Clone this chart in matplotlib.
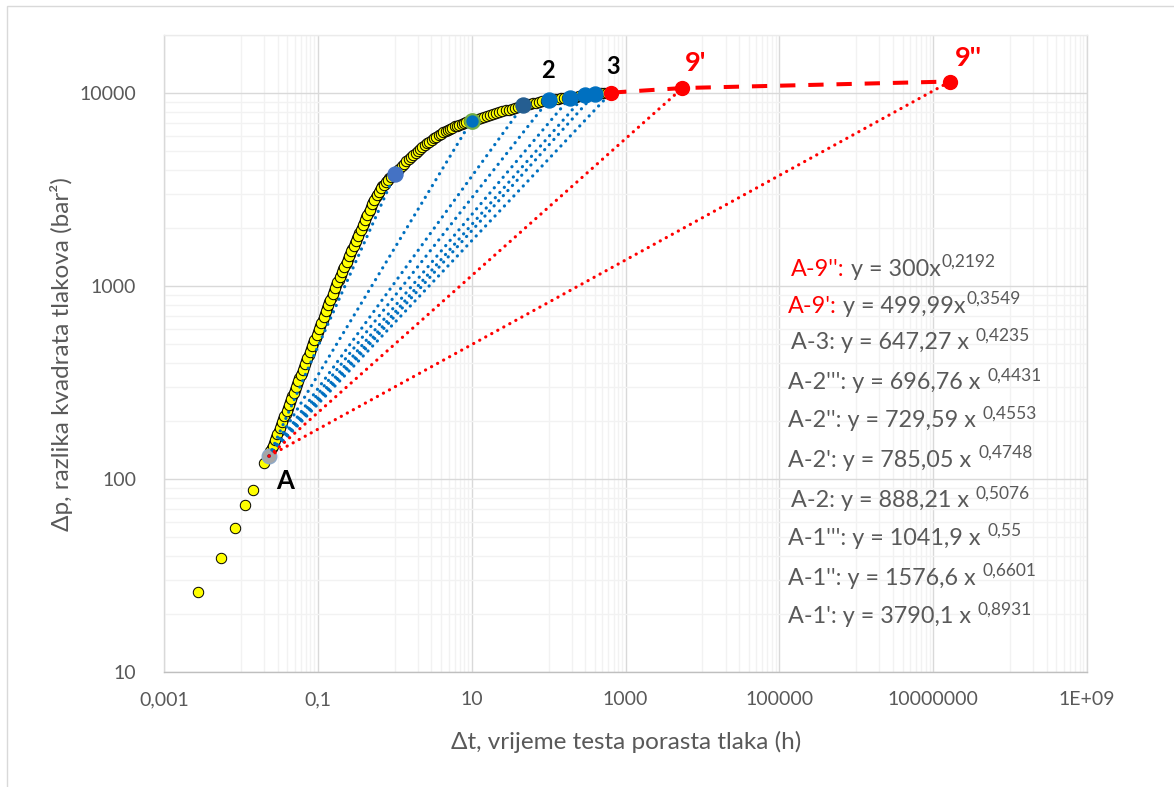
import matplotlib
matplotlib.use("Agg")
import matplotlib.pyplot as plt
from matplotlib.patches import Rectangle

plt.rcParams['font.family'] = ['Lato', 'DejaVu Sans']

# ---------------- data ----------------
# early (sparse) build-up points
dt_early = [0.0028, 0.0055, 0.0084, 0.0113, 0.0144, 0.0200]
dp_early = [26, 39, 56, 73, 88, 121]

# dense part of the measured curve
dt_curve = [0.0234, 0.0251, 0.0269, 0.0288, 0.0309, 0.0331, 0.0355, 0.0380, 0.0407, 0.0437,
            0.0468, 0.0501, 0.0537, 0.0575, 0.0617, 0.0661, 0.0708, 0.0759, 0.0813, 0.0871,
            0.0933, 0.100, 0.107, 0.115, 0.123, 0.132, 0.141, 0.151, 0.162, 0.174,
            0.186, 0.200, 0.214, 0.229, 0.245, 0.263, 0.282, 0.302, 0.324, 0.347,
            0.372, 0.398, 0.427, 0.457, 0.490, 0.525, 0.562, 0.603, 0.646, 0.692,
            0.741, 0.794, 0.851, 0.912, 0.977,
            1.000, 1.072, 1.148, 1.230, 1.318, 1.413, 1.514, 1.622, 1.738, 1.862,
            1.995, 2.138, 2.291, 2.455, 2.630, 2.818, 3.020, 3.236, 3.467, 3.715,
            3.981, 4.266, 4.571, 4.898, 5.248, 5.623, 6.026, 6.457, 6.918, 7.413,
            7.943, 8.511, 9.120, 10.0,
            10.96, 12.02, 13.18, 14.45, 15.85, 17.38, 19.05, 20.89, 22.91, 25.12,
            27.54, 30.20, 33.11, 36.31, 39.81, 43.65, 47.86, 52.48, 57.54, 63.10,
            69.18, 75.86, 83.18, 91.20, 100.0, 109.6, 120.2, 131.8, 144.5, 158.5,
            173.8, 190.5, 208.9, 229.1, 251.2, 275.4, 302.0, 331.1, 363.1, 398.1,
            436.5, 478.6, 524.8, 575.4, 631.0]
dp_curve = [134, 144, 154, 165, 177, 190, 204, 218, 234, 251,
            269, 288, 310, 332, 356, 382, 409, 439, 470, 505,
            541, 580, 622, 667, 714, 766, 822, 881, 944, 1016,
            1076, 1146, 1219, 1297, 1380, 1469, 1563, 1663, 1770, 1884,
            2004, 2133, 2270, 2415, 2570, 2735, 2884, 3013, 3148, 3289,
            3396, 3508, 3614, 3715, 3776,
            3811, 3936, 4055, 4178, 4305, 4426, 4550, 4667, 4786, 4909,
            5023, 5140, 5260, 5383, 5495, 5610, 5728, 5834, 5943, 6053,
            6152, 6252, 6353, 6442, 6531, 6622, 6714, 6792, 6871, 6950,
            7015, 7079, 7145, 7211,
            7295, 7362, 7447, 7534, 7621, 7691, 7780, 7870, 7943, 8035,
            8128, 8204, 8299, 8395, 8472, 8570, 8670, 8750, 8810, 8872,
            8933, 9016, 9078, 9141, 9204, 9247, 9290, 9333, 9376, 9419,
            9462, 9506, 9550, 9594, 9638, 9683, 9727, 9772, 9817, 9863,
            9908, 9954, 10000, 10023, 10046]

# further readings in the steep part of the curve
dt_curve2 = [0.0242, 0.0260, 0.0278, 0.0298, 0.0320, 0.0343, 0.0367, 0.0393, 0.0422, 0.0452,
             0.0484, 0.0519, 0.0556, 0.0596, 0.0639, 0.0684, 0.0733, 0.0786, 0.0842, 0.0902,
             0.0966, 0.1035, 0.111, 0.119, 0.1275, 0.1365, 0.146, 0.1565, 0.168, 0.180,
             0.193, 0.207, 0.2215, 0.237, 0.254, 0.2725, 0.292, 0.313, 0.335, 0.359,
             0.385, 0.412, 0.442, 0.473, 0.507, 0.543, 0.582, 0.624, 0.669, 0.716,
             0.767, 0.822, 0.881, 0.944]
dp_curve2 = [139, 149, 160, 171, 183, 197, 211, 226, 242, 260,
             279, 299, 321, 344, 369, 395, 424, 454, 487, 523,
             560, 601, 644, 690, 740, 794, 851, 912, 979, 1046,
             1110, 1182, 1257, 1338, 1424, 1515, 1612, 1716, 1826, 1943,
             2068, 2200, 2342, 2492, 2651, 2808, 2948, 3080, 3218, 3342,
             3451, 3561, 3664, 3745]

# common start point A of all trend lines
a_dt = [0.0232]
a_dp = [131.5]

# end points of the trend lines
end_names = ["1'", "1''", "1'''", "2", "2'", "2''", "2'''", "3", "9'", "9''"]
end_dt = [1.0, 10.0, 47, 100, 190, 300, 400, 650, 5500, 1.66e7]
end_dp = [3790, 7210, 8660, 9200, 9480, 9790, 9910, 10055, 10620, 11480]

# extrapolated series 3 -> 9' -> 9''
ext_dt = [650, 5500, 1.66e7]
ext_dp = [10055, 10620, 11480]

# trend line equations (label, coefficient, exponent)
eq_labels = ["A-9''", "A-9'", "A-3", "A-2'''", "A-2''", "A-2'", "A-2", "A-1'''", "A-1''", "A-1'"]
eq_coef = ["300", "499,99", "647,27", "696,76", "729,59", "785,05", "888,21", "1041,9", "1576,6", "3790,1"]
eq_exp = ["0,2192", "0,3549", "0,4235", "0,4431", "0,4553", "0,4748", "0,5076", "0,55", "0,6601", "0,8931"]

x_ticks = [1e-3, 1e-1, 1e1, 1e3, 1e5, 1e7, 1e9]
x_ticklabels = ["0,001", "0,1", "10", "1000", "100000", "10000000", "1E+09"]
y_ticks = [10, 100, 1000, 10000]
y_ticklabels = ["10", "100", "1000", "10000"]

# ---------------- figure ----------------
W, H = 1174, 787
fig = plt.figure(figsize=(W / 100, H / 100), dpi=100)
L, R, T, B = 164, 1087, 35, 672
ax = fig.add_axes([L / W, 1 - B / H, (R - L) / W, (B - T) / H])
ax.set_xscale('log')
ax.set_yscale('log')
ax.set_xlim(1e-3, 1e9)
ax.set_ylim(10, 2e4)

GREY = '#595959'
BLUE = '#0070C0'
RED = '#FF0000'

# grid
xminor = [m * 10.0 ** (k + 1) for k in (-3, -1, 1, 3, 5, 7) for m in range(1, 10)]
yminor = [m * 10.0 ** k for k in (1, 2, 3) for m in range(2, 10)] + [2e4]
ax.set_xticks(x_ticks)
ax.set_xticklabels(x_ticklabels)
ax.set_xticks(xminor, minor=True)
ax.set_yticks(y_ticks)
ax.set_yticklabels(y_ticklabels)
ax.set_yticks(yminor, minor=True)
ax.tick_params(which='both', length=0)
ax.tick_params(axis='x', which='major', pad=14, labelsize=14, labelcolor=GREY)
ax.tick_params(axis='y', which='major', pad=20, labelsize=14, labelcolor=GREY)
ax.xaxis.set_minor_formatter(plt.NullFormatter())
ax.yaxis.set_minor_formatter(plt.NullFormatter())
ax.grid(which='minor', color='#F2F2F2', lw=1.0, zorder=0)
ax.grid(which='major', color='#D9D9D9', lw=1.0, zorder=0)
ax.set_axisbelow(True)
ax.spines['top'].set_color('#EBEBEB')
for s in ['left', 'right']:
    ax.spines[s].set_color('#D9D9D9')
ax.spines['bottom'].set_color('#BFBFBF')
for s in ax.spines.values():
    s.set_linewidth(1.0)

# measured data
ax.plot(dt_early + dt_curve, dp_early + dp_curve, ls='none', marker='o', ms=7.5,
        mfc='#FFFF00', mec='black', mew=0.7, zorder=2)
ax.plot(dt_curve2, dp_curve2, ls='none', marker='o', ms=7.5,
        mfc='#FFFF00', mec='black', mew=0.7, zorder=2)

# point A
ax.plot(a_dt, a_dp, ls='none', marker='o', ms=10.5, mfc='#A6A6A6', mec='#8EA9C8',
        mew=1.0, zorder=2.5)

# trend lines from A to each end point
for i in range(len(end_dt)):
    col = RED if end_names[i] in ("9'", "9''") else BLUE
    ax.plot([a_dt[0], end_dt[i]], [a_dp[0], end_dp[i]], color=col, lw=2.3,
            ls=(0, (0.05, 2.1)), dash_capstyle='round', solid_capstyle='round', zorder=3)

# extrapolation (dashed red)
ax.plot(ext_dt, ext_dp, color=RED, lw=2.9, ls=(0, (3.8, 3.2)), zorder=3.5)

# end point markers
marker_style = {
    "1'": dict(mfc='#4472C4', mec='#4472C4', ms=10.8),
    "1''": dict(mfc=BLUE, mec='#70AD47', ms=10.5, mew=1.6),
    "1'''": dict(mfc='#255E91', mec='#255E91', ms=10.8),
    "2": dict(mfc=BLUE, mec=BLUE, ms=10.8),
    "2'": dict(mfc=BLUE, mec=BLUE, ms=10.8),
    "2''": dict(mfc=BLUE, mec=BLUE, ms=10.8),
    "2'''": dict(mfc=BLUE, mec=BLUE, ms=10.8),
    "3": dict(mfc=RED, mec=RED, ms=10.0),
    "9'": dict(mfc=RED, mec=RED, ms=10.0),
    "9''": dict(mfc=RED, mec=RED, ms=10.0),
}
for i, name in enumerate(end_names):
    st = dict(mew=1.0)
    st.update(marker_style[name])
    ax.plot([end_dt[i]], [end_dp[i]], ls='none', marker='o', zorder=4, **st)

# point labels
def plabel(x, y, txt, dx, dy, color, size):
    ax.annotate(txt, xy=(x, y), xytext=(dx, dy), textcoords='offset pixels',
                ha='center', va='center', fontsize=size, fontweight='bold',
                color=color, zorder=6)

plabel(end_dt[3], end_dp[3], "2", -1, 30, 'black', 17)
plabel(end_dt[7], end_dp[7], "3", 2, 26, 'black', 17)
plabel(end_dt[8], end_dp[8], "9'", 13, 25, RED, 19.5)
plabel(end_dt[9], end_dp[9], "9''", 18, 24, RED, 19.5)
plabel(a_dt[0], a_dp[0], "A", 16, -25, 'black', 18.5)

# axis titles
fig.text(626 / W, 1 - 742 / H, "Δt, vrijeme testa porasta tlaka (h)", ha='center',
         va='center', fontsize=17.5, color=GREY)
fig.text(62 / W, 1 - 354 / H, "Δp, razlika kvadrata tlakova (bar²)", ha='center',
         va='center', rotation=90, fontsize=17.5, color=GREY)

# equations (drawn piecewise so superscripts and colours are right)
fig.canvas.draw()
renderer = fig.canvas.get_renderer()

eq_x = [791, 788, 791, 788, 788, 788, 791, 788, 788, 788]
eq_base = [276, 312.7, 349.3, 389.3, 427.3, 466.7, 507.3, 545, 585, 623.3]
MAIN_FS = 16.8
SUP_FS = 12.5

for i in range(len(eq_labels)):
    x = eq_x[i]
    yb = eq_base[i]
    red_label = i < 2
    pieces = []
    if red_label:
        pieces.append((eq_labels[i] + ":", RED))
        pieces.append(("y = " + eq_coef[i] + "x", GREY))
        gap = 1
    else:
        pieces.append((eq_labels[i] + ": y = " + eq_coef[i] + " x", GREY))
        gap = 7
    cx = x
    for j, (txt, col) in enumerate(pieces):
        t = fig.text(cx / W, 1 - yb / H, txt, ha='left', va='baseline',
                     fontsize=MAIN_FS, color=col)
        bb = t.get_window_extent(renderer)
        cx = bb.x1
        if j == 0 and red_label:
            cx += 6
    fig.text((cx + gap) / W, 1 - (yb - 9) / H, eq_exp[i], ha='left', va='baseline',
             fontsize=SUP_FS, color=GREY)

# chart-area border
fig.patches.append(Rectangle((7 / W, -0.05), 1.2, 1 - 6 / H + 0.05, transform=fig.transFigure,
                             fill=False, ec='#D9D9D9', lw=1.0, clip_on=False))

fig.savefig('out.png', dpi=100)
